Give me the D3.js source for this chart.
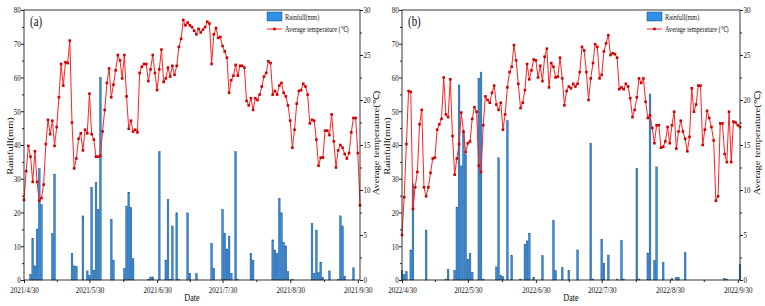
<!DOCTYPE html>
<html><head><meta charset="utf-8">
<script src="https://cdn.jsdelivr.net/npm/d3@7/dist/d3.min.js"></script>
<style>
body{margin:0;background:#fff}
svg{display:block}
text{font-family:"Liberation Serif","Times New Roman",serif;fill:#111}
</style>
</head><body>
<svg id="c" width="765" height="306"></svg>
<script>
// ---------------- DATA ----------------
const panelLabels = ["(a)", "(b)"];
const startDates = ["2021/4/30", "2022/4/30"];
const tickLabelsA = ["2021/4/30","2021/5/30","2021/6/30","2021/7/30","2021/8/30","2021/9/30"];
const tickLabelsB = ["2022/4/30","2022/5/30","2022/6/30","2022/7/30","2022/8/30","2022/9/30"];
const rainTicks = [0,10,20,30,40,50,60,70,80];
const tempTicks = [0,5,10,15,20,25,30];
const legendLabels = ["Rainfull(mm)", "Average temperature (\u2103)"];
const yTitleLeft = "Rainfull(mm)";
const yTitleRight = "Average temperature(\u2103)";
const xTitle = "Date";

// daily average temperature (°C), one value per day from the start date
const tempA = [8.9,12.1,14.9,13.7,10.9,14.3,10.9,8.8,9.1,10.6,
15.1,17.8,16.2,17.7,14.9,17.0,20.3,24.0,21.6,24.2,
24.1,26.6,17.5,12.4,13.5,15.7,16.3,14.4,16.7,16.3,
20.7,16.2,15.6,13.7,13.7,13.8,16.5,18.9,21.9,23.5,
20.3,21.7,23.3,25.0,24.4,22.4,25.0,20.4,16.8,17.7,
16.5,16.7,16.4,23.0,23.7,24.0,24.0,22.1,23.4,25.0,
23.0,21.1,23.4,25.6,22.0,22.4,23.6,22.6,23.8,22.8,
23.8,25.9,26.8,28.9,28.3,28.6,
28.3,28.1,27.7,27.3,27.9,27.5,27.8,28.1,28.7,28.5,
24.0,27.3,28.0,26.9,27.0,26.0,25.4,24.7,20.8,22.2,
22.7,23.9,22.7,23.8,23.8,23.6,19.9,19.4,20.2,18.9,
20.2,20.0,20.6,21.5,22.6,23.0,24.3,24.1,20.6,21.0,
20.6,21.6,21.9,20.8,20.4,19.4,17.7,14.7,16.7,19.6,
21.0,21.1,21.8,21.5,20.6,17.4,17.8,17.7,15.6,12.7,
13.6,13.6,16.6,16.6,16.1,18.4,15.4,12.5,14.4,15.0,
14.7,14.0,13.5,14.1,16.4,18.0,18.0,14.1,8.3];

const tempB = [5.0,9.2,15.1,21.0,20.9,7.9,10.3,12.0,17.3,18.9,
10.3,9.3,10.3,11.9,13.5,13.6,16.7,17.3,17.9,22.5,
18.4,18.1,22.3,16.0,11.7,13.5,15.1,18.6,16.5,14.2,
15.2,15.4,17.9,19.2,18.7,12.7,12.0,17.2,20.4,20.0,
19.7,20.8,21.6,19.5,18.9,19.7,16.7,18.4,21.4,23.1,
23.7,26.1,24.4,21.8,19.1,19.7,21.1,24.0,22.3,23.3,
24.5,24.4,22.5,23.8,22.1,24.8,25.7,21.4,24.1,23.7,
22.5,22.6,24.7,22.4,19.4,21.0,21.5,
21.3,21.8,21.5,21.8,23.1,25.9,25.5,23.1,20.0,22.4,
24.1,26.2,25.9,22.4,22.8,25.4,26.3,27.2,25.0,25.2,
25.1,24.7,21.2,21.4,21.2,21.8,21.5,20.2,18.1,18.9,
20.3,22.4,21.9,22.4,19.8,18.0,18.3,16.9,15.2,17.2,
17.2,14.7,14.8,15.4,17.0,15.2,17.2,18.7,14.6,16.5,
17.7,16.5,15.7,14.3,15.9,21.3,18.7,19.5,21.6,21.6,
15.0,16.7,18.8,18.0,17.0,15.5,8.8,9.3,17.4,17.4,
14.0,13.1,18.7,13.1,17.6,17.5,17.2,17.0];

// rainfall (mm): day offset from start date, and amount
const rainDayA = [3,4,5,6,7,8,13,14,22,23,24,27,29,30,31,32,33,34,35,40,41,46,47,48,49,50,57,58,59,62,65,66,67,68,70,71,75,76,79,86,87,91,92,93,94,95,97,98,104,105,114,115,116,117,118,119,120,121,123,132,133,134,135,136,137,140,144,145,146,147,151];
const rainA    = [1.7,12.3,4.2,15.1,33.0,22.3,13.8,31.4,7.9,4.2,4.0,19.0,2.7,1.4,27.5,2.9,29.0,20.9,60.0,18.0,5.9,3.4,21.9,26.0,21.4,6.3,0.2,0.9,0.9,38.0,5.9,23.9,0.2,16.0,19.9,0.2,19.9,1.9,1.9,10.9,3.4,20.9,13.8,9.2,13.0,2.0,38.0,0.2,7.9,5.9,11.9,8.9,7.9,24.2,19.9,11.2,10.1,2.5,0.2,16.8,2.0,14.8,2.2,5.3,0.7,2.7,0.2,19.0,16.0,1.1,3.6];

const rainDayB = [0,1,2,4,5,11,20,21,24,25,26,27,28,29,30,31,32,35,36,37,43,44,45,46,48,50,54,56,57,58,60,64,69,70,73,76,80,86,87,91,92,94,98,100,101,107,108,112,113,115,116,119,123,125,126,129,147,148,154];
const rainB    = [2.9,1.6,2.5,8.9,28.5,14.8,0.3,3.2,2.9,21.6,57.8,33.8,44.0,37.2,6.2,7.9,2.3,59.8,61.6,0.3,3.9,36.2,1.3,1.0,47.2,7.2,0.3,10.6,11.6,13.9,0.8,7.2,17.7,2.8,3.7,2.8,8.9,40.4,0.3,12.1,5.0,7.4,0.3,11.8,0.3,33.1,0.3,8.0,55.1,5.7,33.5,5.2,0.5,0.8,0.8,8.2,0.5,0.3,4.7];

const nDays = 154; // span from 4/30 to 10/1

// ---------------- DRAW ----------------
const SX = 0.78; // horizontal text compression of the original figure
const parse = d3.timeParse("%Y/%m/%d");
const svg = d3.select("#c");
const TOP = 10, BOT = 280;
const barFill = "#2f8fe6", barStroke = "#23476f";
const lineCol = "#ff2222", markCol = "#d00000";

const panels = [
  {x0:24, x1:360, lab:panelLabels[0], start:startDates[0], ticks:tickLabelsA, temp:tempA, rd:rainDayA, rv:rainA,
   titleL:10, titleR:376},
  {x0:402, x1:740, lab:panelLabels[1], start:startDates[1], ticks:tickLabelsB, temp:tempB, rd:rainDayB, rv:rainB,
   titleL:387, titleR:757}
];

function txt(g, x, y, s, size, anchor, rot, dy){
  const t = g.append("text")
    .attr("transform", `translate(${x},${y}) scale(${SX},1)` + (rot ? ` rotate(${rot})` : ""))
    .attr("font-size", size).attr("text-anchor", anchor || "start").text(s);
  if (dy) t.attr("dy", dy);
  return t;
}

panels.forEach(p => {
  const g = svg.append("g");
  const s0 = parse(p.start);
  const x = d3.scaleTime().domain([s0, d3.timeDay.offset(s0, nDays)]).range([p.x0, p.x1]);
  const yL = d3.scaleLinear().domain([0, 80]).range([BOT, TOP]);
  const yR = d3.scaleLinear().domain([0, 30]).range([BOT, TOP]);
  const dayW = (p.x1 - p.x0) / nDays;
  const bw = dayW * 0.8;

  // bars
  g.append("g").selectAll("rect").data(p.rd.map((d, i) => ({d: d3.timeDay.offset(s0, d), v: p.rv[i]})))
    .join("rect")
    .attr("x", d => x(d.d) - bw / 2).attr("width", bw)
    .attr("y", d => yL(d.v)).attr("height", d => BOT - yL(d.v))
    .attr("fill", barFill).attr("stroke", barStroke).attr("stroke-width", 0.4);

  // temperature line
  const pts = p.temp.map((v, i) => ({d: d3.timeDay.offset(s0, i), v}));
  g.append("path").datum(pts)
    .attr("d", d3.line().x(d => x(d.d)).y(d => yR(d.v)))
    .attr("fill", "none").attr("stroke", lineCol).attr("stroke-width", 1);
  g.append("g").selectAll("rect").data(pts).join("rect")
    .attr("x", d => x(d.d) - 1.3).attr("y", d => yR(d.v) - 1.3)
    .attr("width", 2.6).attr("height", 2.6).attr("fill", markCol);

  // frame
  g.append("rect").attr("x", p.x0).attr("y", TOP).attr("width", p.x1 - p.x0).attr("height", BOT - TOP)
    .attr("fill", "none").attr("stroke", "#222").attr("stroke-width", 0.9);

  // axes
  const tickDates = p.ticks.map(parse);
  const minorDates = tickDates.slice(1).map((d, i) => x.invert((x(tickDates[i]) + x(d)) / 2));
  const ax = (sel) => { sel.select(".domain").remove(); sel.selectAll("line").attr("stroke", "#222"); };

  const gL = g.append("g").attr("transform", `translate(${p.x0},0)`)
    .call(d3.axisLeft(yL).tickValues(rainTicks).tickSize(3)).call(ax);
  g.append("g").attr("transform", `translate(${p.x0},0)`)
    .call(d3.axisLeft(yL).tickValues(rainTicks.slice(1).map(v => v - 5)).tickSize(2).tickFormat("")).call(ax);
  gL.selectAll("text").attr("font-size", 9).attr("font-family", null).attr("fill", "#111")
    .attr("x", -4.3).attr("transform", `scale(${SX},1)`);

  const gR = g.append("g").attr("transform", `translate(${p.x1},0)`)
    .call(d3.axisRight(yR).tickValues(tempTicks).tickSize(3)).call(ax);
  g.append("g").attr("transform", `translate(${p.x1},0)`)
    .call(d3.axisRight(yR).tickValues(tempTicks.slice(1).map(v => v - 2.5)).tickSize(2).tickFormat("")).call(ax);
  gR.selectAll("text").attr("font-size", 9).attr("font-family", null).attr("fill", "#111")
    .attr("x", 4.6).attr("transform", `scale(${SX},1)`);

  const gB = g.append("g").attr("transform", `translate(0,${BOT})`)
    .call(d3.axisBottom(x).tickValues(tickDates).tickSize(3).tickFormat((d, i) => p.ticks[i])).call(ax);
  g.append("g").attr("transform", `translate(0,${BOT})`)
    .call(d3.axisBottom(x).tickValues(minorDates).tickSize(2).tickFormat("")).call(ax);
  gB.selectAll("text").attr("font-size", 9).attr("font-family", null).attr("fill", "#111")
    .attr("y", 6.5).attr("transform", `scale(${SX},1)`);

  // titles
  txt(g, p.titleL, (TOP + BOT) / 2 + 1, yTitleLeft, 10.5, "middle", -90, "0.35em");
  txt(g, p.titleR, (TOP + BOT) / 2 - 2, yTitleRight, 10.5, "middle", -90, "0.35em");
  txt(g, (p.x0 + p.x1) / 2, 301, xTitle, 10.5, "middle");
  txt(g, p.x0 + 6, 26, p.lab, 14, "start");

  // legend
  const lx = p.x1 - 93, ly = 12;
  g.append("rect").attr("x", lx).attr("y", ly).attr("width", 15).attr("height", 9)
    .attr("fill", barFill).attr("stroke", barStroke).attr("stroke-width", 0.5);
  txt(g, lx + 18, ly + 8, legendLabels[0], 8, "start");
  g.append("line").attr("x1", lx).attr("x2", lx + 15).attr("y1", ly + 17).attr("y2", ly + 17)
    .attr("stroke", lineCol).attr("stroke-width", 1);
  g.append("rect").attr("x", lx + 6.2).attr("y", ly + 15.7).attr("width", 2.6).attr("height", 2.6).attr("fill", markCol);
  txt(g, lx + 18, ly + 20, legendLabels[1], 8, "start");
});
</script>
</body></html>
